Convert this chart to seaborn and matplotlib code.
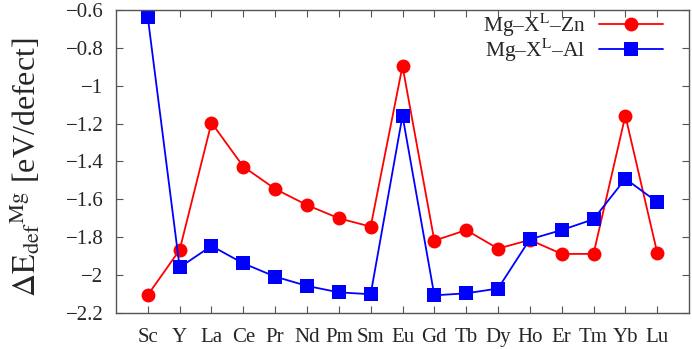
import numpy as np
import pandas as pd
import matplotlib
matplotlib.use("Agg")
import matplotlib.pyplot as plt
import seaborn as sns

elements = ["Sc", "Y", "La", "Ce", "Pr", "Nd", "Pm", "Sm", "Eu",
            "Gd", "Tb", "Dy", "Ho", "Er", "Tm", "Yb", "Lu"]
zn_vals = [-2.105, -1.867, -1.195, -1.427, -1.545, -1.630, -1.700, -1.744, -0.896,
           -1.818, -1.762, -1.860, -1.814, -1.888, -1.888, -1.158, -1.881]
al_vals = [-0.639, -1.959, -1.846, -1.938, -2.008, -2.057, -2.091, -2.101, -1.158,
           -2.107, -2.096, -2.071, -1.811, -1.762, -1.705, -1.491, -1.614]
yticks = [-2.2, -2.0, -1.8, -1.6, -1.4, -1.2, -1.0, -0.8, -0.6]
ytick_labels = ["−2.2", "−2", "−1.8", "−1.6", "−1.4", "−1.2", "−1", "−0.8", "−0.6"]

zn_label = r"Mg–X$^{\mathrm{L}}$–Zn"
al_label = r"Mg–X$^{\mathrm{L}}$–Al"

pos = np.arange(len(elements))
df = pd.concat([
    pd.DataFrame({"pos": pos, "dE": zn_vals, "system": zn_label}),
    pd.DataFrame({"pos": pos, "dE": al_vals, "system": al_label}),
], ignore_index=True)

sns.set_style("ticks")
plt.rcParams["font.family"] = ["Liberation Serif", "DejaVu Serif"]
plt.rcParams["mathtext.fontset"] = "stix"

fig = plt.figure(figsize=(6.92, 3.49), dpi=100)
ax = fig.add_axes([0.1676, 0.1032, 0.8281, 0.8681])

sns.lineplot(data=df, x="pos", y="dE", hue="system", style="system",
             palette={zn_label: "#ff0000", al_label: "#0000ff"},
             markers={zn_label: "o", al_label: "s"}, dashes=False,
             markersize=10, markeredgewidth=0, linewidth=1.3, ax=ax)

ax.set_xlim(-1, 17)
ax.set_ylim(-2.2, -0.6)
ax.set_xticks(pos)
ax.set_xticklabels(elements, fontsize=15)
ax.set_yticks(yticks)
ax.set_yticklabels(ytick_labels, fontsize=15)
ax.tick_params(direction="in", top=True, right=True, length=5, width=0.8,
               color="#555555", pad=9)
ax.tick_params(axis="x", pad=11)
for s in ax.spines.values():
    s.set_color("#555555")
    s.set_linewidth(1.0)
ax.set_xlabel("")
ax.set_ylabel(r"$\Delta\mathrm{E}_{\mathrm{def}}{}^{\mathrm{Mg}}$ [eV/defect]", fontsize=23)
ax.yaxis.set_label_coords(-0.128, 0.48)

leg = ax.legend(loc="upper right", bbox_to_anchor=(0.955, 0.995), frameon=False,
                fontsize=15.5, markerfirst=False, handlelength=3.0,
                handletextpad=0.6, labelspacing=-0.1, borderpad=0, borderaxespad=0)
for t in leg.get_texts():
    t.set_ha("right")

fig.savefig("out.png", dpi=100)
